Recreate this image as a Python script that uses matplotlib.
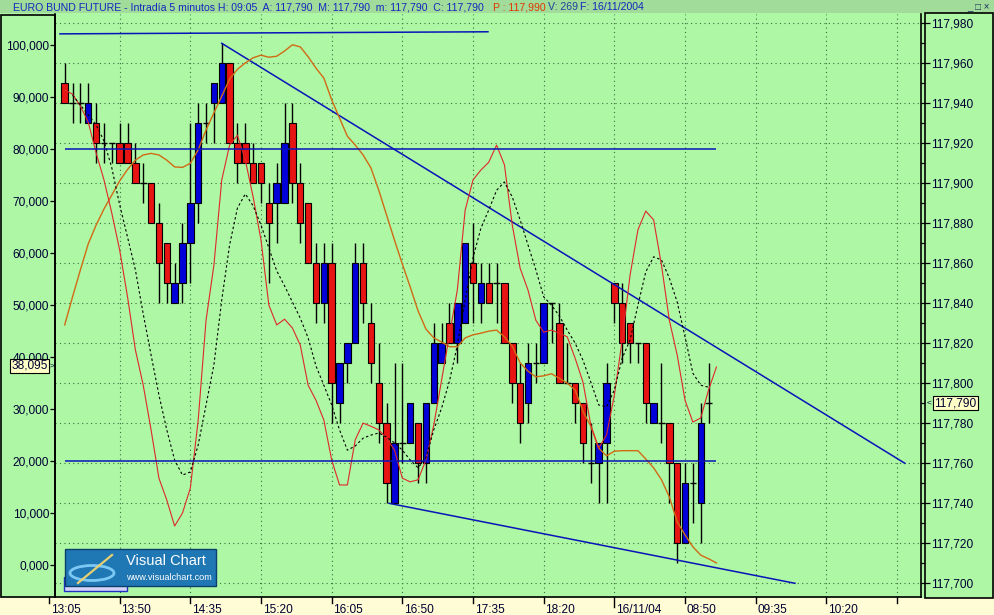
import numpy as np
import matplotlib.pyplot as plt
from matplotlib.patches import Rectangle, Ellipse
from matplotlib.lines import Line2D

plt.rcParams['font.family'] = ['Liberation Sans', 'DejaVu Sans']

W, H = 994, 615

# ---- data ----
# one slot per 5 minute bar on the time axis, slot 0 = 13:05
slots = np.arange(2, 85)
# prices in thousandths above 117.000
open_t = [950, 940, 940, 930, 930, 920, 920, 920, 920, 910, 900, 900, 880, 870, 840,
          850, 870, 890, 930, 940, 940, 960, 920, 920, 910, 910, 890, 890, 890, 930,
          900, 890, 860, 840, 860, 790, 810, 820, 860, 830, 800, 780, 740, 770, 770,
          780, 760, 790, 810, 830, 820, 830, 860, 840, 850, 850, 850, 820, 800, 790,
          810, 810, 840, 830, 800, 800, 790, 760, 760, 770, 850, 840, 830, 820, 820,
          780, 780, 780, 760, 720, 750, 740, 790]
high_t = [960, 950, 950, 950, 940, 930, 920, 930, 930, 920, 910, 900, 890, 870, 860,
          880, 930, 940, 940, 950, 970, 960, 930, 930, 920, 910, 900, 910, 940, 940,
          910, 890, 870, 870, 870, 810, 820, 870, 870, 840, 820, 790, 810, 810, 790,
          780, 790, 830, 830, 840, 840, 870, 880, 860, 860, 860, 850, 820, 810, 820,
          820, 840, 840, 840, 820, 800, 790, 780, 770, 810, 850, 850, 830, 820, 820,
          790, 810, 780, 760, 760, 760, 790, 810]
low_t = [940, 930, 930, 930, 910, 910, 910, 910, 910, 900, 890, 880, 840, 840, 840,
         840, 850, 880, 920, 920, 940, 920, 900, 910, 900, 890, 850, 870, 890, 890,
         870, 860, 830, 830, 780, 780, 800, 820, 830, 800, 770, 740, 740, 760, 770,
         750, 750, 790, 810, 820, 810, 830, 830, 830, 840, 830, 820, 790, 770, 780,
         800, 810, 820, 800, 800, 780, 760, 750, 740, 740, 830, 810, 810, 810, 780,
         780, 770, 740, 710, 720, 730, 720, 780]
close_t = [940, 940, 940, 940, 920, 920, 920, 910, 910, 900, 900, 880, 860, 850, 850,
           870, 890, 930, 930, 950, 960, 920, 910, 910, 900, 900, 880, 900, 920, 900,
           880, 860, 840, 860, 800, 810, 820, 860, 840, 810, 780, 750, 770, 770, 790,
           760, 790, 820, 820, 820, 840, 870, 850, 850, 840, 850, 820, 800, 780, 810,
           810, 840, 840, 800, 800, 790, 770, 760, 770, 800, 840, 820, 820, 820, 790,
           790, 780, 760, 720, 750, 750, 780, 790]

# oscillators (left scale), thousands
osc_slots = np.arange(2, 86)
slow_k = [46.2, 51.6, 56.8, 61.8, 65.4, 68.5, 71.2, 73.9, 76.1, 77.9,
          78.9, 79.2, 78.9, 77.9, 76.6, 76.5, 77.3, 79.9, 83.7, 87.0,
          90.2, 93.5, 95.4, 96.6, 97.6, 98.1, 97.7, 97.9, 98.9, 100.1,
          99.7, 97.8, 95.6, 93.7, 89.5, 86.0, 82.5, 80.8, 78.9, 76.4,
          72.1, 67.3, 62.5, 57.9, 53.5, 48.9, 45.4, 43.7, 42.9, 42.0,
          42.0, 43.7, 44.3, 44.6, 45.0, 45.2, 43.9, 42.1, 38.9, 37.3,
          36.2, 36.4, 36.8, 35.9, 35.0, 33.7, 29.6, 26.7, 22.5, 21.0,
          21.9, 22.0, 22.0, 22.0, 20.4, 18.7, 16.4, 13.1, 8.3, 5.8,
          3.5, 1.9, 1.2, 0.4]
fast_k = [91.4, 90.6, 88.3, 85.2, 79.3, 74.1, 67.7, 60.6, 51.6, 41.4,
          34.6, 26.0, 16.7, 12.5, 7.5, 10.0, 14.8, 27.9, 47.1, 57.7,
          74.1, 80.8, 82.7, 77.9, 70.8, 62.5, 50.0, 46.2, 47.3, 45.6,
          42.3, 34.6, 31.7, 27.9, 20.2, 15.4, 15.4, 24.1, 27.3, 26.7,
          26.0, 24.4, 22.1, 16.7, 16.0, 16.4, 20.2, 26.9, 35.6, 44.3,
          52.9, 68.3, 74.1, 76.0, 77.5, 80.8, 77.0, 65.4, 57.1, 52.9,
          47.1, 44.8, 45.2, 44.6, 43.9, 39.8, 35.2, 26.9, 22.5, 25.0,
          32.7, 43.3, 55.8, 64.5, 68.1, 66.4, 57.7, 47.1, 40.4, 31.7,
          27.5, 28.3, 33.7, 38.1]
sig_slots = np.arange(3, 85)
signal = [90.4, 88.5, 86.6, 84.7, 81.6, 76.4, 69.3, 63.1, 56.8,
          48.3, 40.4, 32.7, 26.0, 20.2, 17.3, 17.9, 23.1, 30.8, 38.5,
          51.0, 61.6, 68.7, 71.4, 69.1, 65.4, 61.0, 56.6, 53.7, 50.6,
          47.5, 43.7, 38.3, 34.6, 30.8, 26.0, 22.1, 22.9, 24.4, 25.0,
          25.4, 24.6, 23.5, 22.1, 20.2, 18.7, 20.6, 26.0, 30.2, 35.4,
          42.3, 51.0, 59.1, 64.8, 68.3, 72.1, 73.7, 70.8, 66.4, 61.6,
          56.8, 51.6, 50.0, 47.9, 45.2, 42.7, 39.4, 35.2, 30.8, 30.4,
          33.7, 39.8, 43.3, 50.0, 56.4, 59.3, 58.7, 55.2, 50.6, 43.9,
          36.9, 34.6, 34.2]

osc_levels = [80000, 20000]
osc_top_line = [(1.4, 102200), (55.9, 102600)]
price_trendlines = [[(22, 117.970), (109, 117.760)],
                    [(43.3, 117.740), (95, 117.700)]]

time_slots = [0, 9, 18, 27, 36, 45, 54, 63, 72, 81, 90, 99, 108]
time_labels = ['13:05', '13:50', '14:35', '15:20', '16:05', '16:50', '17:35',
               '18:20', '16/11/04', '08:50', '09:35', '10:20', '']
price_ticks = np.round(np.arange(117.700, 117.981, 0.020), 3)
osc_ticks = np.arange(0, 100001, 10000)

last_price = 117.790
last_osc = 38095

GREEN = '#adf7a5'
CREAM = '#fffcd6'
TBAR = '#a2dc9a'
RED = '#e81414'
BLUE = '#0000d8'
LBLUE = '#0814b8'
TXT = '#000033'


def fx(px):
    return px / W


def fy(py):
    return 1 - py / H


fig = plt.figure(figsize=(W / 100, H / 100), dpi=100)
fig.patch.set_facecolor(GREEN)

# frame pieces of the trading window
fig.add_artist(Rectangle((0, 0), 1, fy(598), transform=fig.transFigure,
                         fc=CREAM, ec='none', zorder=-2))
fig.add_artist(Rectangle((0, fy(13)), 1, 13 / H, transform=fig.transFigure,
                         fc=TBAR, ec='none', zorder=-2))
fig.add_artist(Rectangle((fx(0.6), fy(597)), 54.4 / W, 582 / H, transform=fig.transFigure,
                         fill=False, ec='black', lw=1.2, zorder=5))
fig.add_artist(Rectangle((fx(925), fy(598)), 68 / W, 585 / H, transform=fig.transFigure,
                         fill=False, ec='black', lw=1.2, zorder=5))

ax = fig.add_axes([fx(55), fy(597), 866 / W, 583 / H])
ax2 = ax.twinx()

ax.set_facecolor(GREEN)
ax.set_xlim(0.764, 111.05)
ax.set_ylim(117.69315, 117.98465)
ax.set_axisbelow(True)
ax.spines['top'].set_visible(False)
for side in ['left', 'right', 'bottom']:
    ax.spines[side].set_linewidth(1.2)

ax.set_xticks(time_slots[1:])
ax.tick_params(axis='x', length=0, labelbottom=False)
ax.yaxis.tick_right()
ax.yaxis.set_label_position('right')
ax.set_yticks(price_ticks)
ax.set_yticklabels([f'{p:.3f}'.replace('.', ',') for p in price_ticks])
ax.set_yticks(np.round(price_ticks[:-1] + 0.010, 3), minor=True)
ax.tick_params(axis='y', which='major', direction='out', length=6.5, width=0.9,
               pad=1, labelsize=8.6, labelcolor=TXT)
ax.tick_params(axis='y', which='minor', direction='out', length=2.9, width=0.9)
ax.grid(True, color='#3f6f3f', linestyle=(0, (1, 3)), linewidth=0.8)

# candles
for s, o, h, l, c in zip(slots, open_t, high_t, low_t, close_t):
    po, ph, pl, pc = [117 + v / 1000 for v in (o, h, l, c)]
    ax.vlines(s, pl, ph, color='black', lw=1, zorder=2)
    if o == c:
        ax.hlines(po, s - 0.42, s + 0.42, color='black', lw=1, zorder=3)
    else:
        ax.bar(s, abs(pc - po), bottom=min(po, pc), width=0.82,
               color=BLUE if c > o else RED, edgecolor='black', lw=0.8, zorder=3)

for (x0, y0), (x1, y1) in price_trendlines:
    ax.plot([x0, x1], [y0, y1], color=LBLUE, lw=1.1, zorder=4)

# oscillator on the left scale
ax2.set_ylim(-6157, 106022)
ax2.yaxis.tick_left()
ax2.yaxis.set_label_position('left')
ax2.set_yticks(osc_ticks)
ax2.set_yticklabels([f'{v / 1000:.3f}'.replace('.', ',') for v in osc_ticks])
ax2.tick_params(axis='y', direction='out', length=3.6, width=0.9, pad=0.6,
                labelsize=8.6, labelcolor=TXT)
for side in ['top', 'right', 'left', 'bottom']:
    ax2.spines[side].set_visible(False)

ax2.plot(osc_slots, np.array(slow_k) * 1000, color='#d26a14', lw=1.0, zorder=3)
ax2.plot(osc_slots, np.array(fast_k) * 1000, color='#e02828', lw=0.8, zorder=3)
ax2.plot(sig_slots, np.array(signal) * 1000, color='black', lw=0.8,
         linestyle=(0, (2.2, 2.2)), zorder=3)
for lev in osc_levels:
    ax2.hlines(lev, osc_slots[0], osc_slots[-1], color=LBLUE, lw=1.1, zorder=4)
(tx0, tv0), (tx1, tv1) = osc_top_line
ax2.plot([tx0, tx1], [tv0, tv1], color=LBLUE, lw=1.1, clip_on=False, zorder=4)

# time axis, drawn by hand so the 13:05 tick left of the frame shows
xt = ax.get_xaxis_transform()
for s, lab in zip(time_slots, time_labels):
    tl = 0.018 if lab.startswith('16/') else 0.010
    ax.plot([s, s], [0, -tl], transform=xt, color='black', lw=1, clip_on=False)
    ax.text(s + 0.2, -0.0215, lab, transform=xt, ha='left', va='center',
            fontsize=8.6, color=TXT, clip_on=False)

# title bar
ty = fy(7)
fig.text(fx(13), ty, 'EURO BUND FUTURE - Intradía 5 minutos H: 09:05  A: 117,790  '
         'M: 117,790  m: 117,790  C: 117,790', fontsize=7.6, color='#1028c0',
         va='center')
fig.text(fx(493), ty, 'P : 117,990', fontsize=7.6, color='#e03800', va='center')
fig.text(fx(548), ty, 'V: 269', fontsize=7.6, color='#2040a0', va='center')
fig.text(fx(580), ty, 'F: 16/11/2004', fontsize=7.6, color='#1028c0', va='center')
fig.text(fx(990), ty, '_ □ ×', fontsize=7, color='#203060', va='center', ha='right')

# last value markers
fig.text(fx(48), fy(366), f'{last_osc / 1000:.3f}'.replace('.', ','), fontsize=8.6,
         color=TXT, ha='right', va='center', zorder=6,
         bbox=dict(boxstyle='square,pad=0.12', fc='#ffffc8', ec='black', lw=0.8))
fig.text(fx(52), fy(366), '>', fontsize=6, color=TXT, ha='center', va='center')
fig.text(fx(934), fy(403), f'{last_price:.3f}'.replace('.', ','), fontsize=8.6,
         color=TXT, ha='left', va='center', zorder=6,
         bbox=dict(boxstyle='square,pad=0.12', fc='#ffffc8', ec='black', lw=0.8))
fig.text(fx(929), fy(403), '<', fontsize=6, color=TXT, ha='center', va='center')

# Visual Chart logo
fig.add_artist(Rectangle((fx(64), fy(591)), 63 / W, 14 / H, transform=fig.transFigure,
                         fc='#d4d4f8', ec='#2030c0', lw=1, zorder=6))
fig.add_artist(Rectangle((fx(65), fy(586)), 151 / W, 37 / H, transform=fig.transFigure,
                         fc='#1f77b4', ec='#0c3f6e', lw=1, zorder=7))
fig.add_artist(Ellipse((fx(92), fy(573)), 44 / W, 15 / H, transform=fig.transFigure,
                       fill=False, ec='#7cc8f4', lw=2, zorder=8))
fig.add_artist(Line2D([fx(78), fx(112)], [fy(583), fy(555)], transform=fig.transFigure,
                      color='#e8d070', lw=1.6, zorder=8))
fig.text(fx(126), fy(561), 'Visual Chart', fontsize=10.5, color='white',
         va='center', zorder=9)
fig.text(fx(126), fy(577), 'www.visualchart.com', fontsize=6.6, color='white',
         va='center', zorder=9)

fig.savefig('out.png', dpi=100, facecolor=fig.get_facecolor())
